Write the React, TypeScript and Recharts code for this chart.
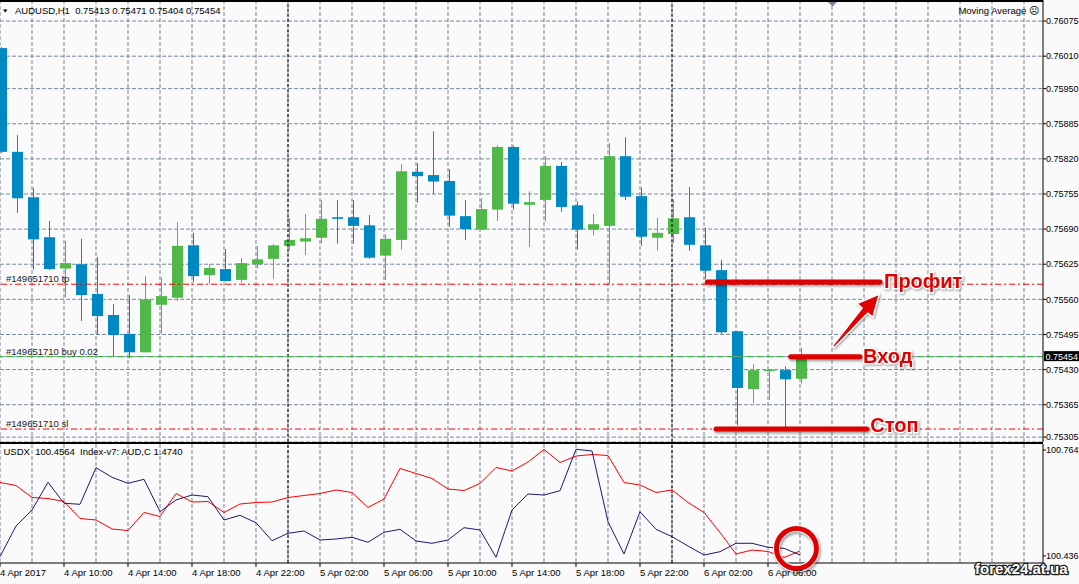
import React from 'react';
import { ComposedChart, Bar, Line, XAxis, YAxis, CartesianGrid, ReferenceLine, ReferenceDot } from 'recharts';

const W = 1079;
const H = 584;
const MAIN_H = 442;
const LOWER_TOP = 444;
const LOWER_H = 140;
const BG = '#fafafa';
const FONT = '"Liberation Sans", Arial, sans-serif';
const GRID = '#778899';
const UP = '#4fb848';
const DOWN = '#0088c2';

// AUDUSD H1, one bar per hour from 4 Apr 06:00
const opens = [0.76025, 0.75833, 0.75749, 0.75675, 0.75617, 0.75625, 0.7557, 0.75531, 0.75496, 0.75462, 0.7555, 0.75563, 0.7566, 0.75605, 0.75616, 0.75596, 0.75625, 0.75635, 0.75659, 0.75667, 0.75674, 0.75712, 0.75712, 0.75697, 0.75641, 0.7567, 0.75796, 0.7579, 0.75779, 0.75714, 0.75689, 0.75726, 0.75842, 0.75735, 0.75744, 0.75807, 0.75734, 0.75689, 0.75696, 0.75825, 0.75751, 0.75674, 0.75681, 0.75712, 0.7566, 0.75614, 0.75501, 0.75394, 0.75428, 0.75429, 0.75413];
const highs = [0.76027, 0.75864, 0.75766, 0.75705, 0.75668, 0.75672, 0.75638, 0.75551, 0.75568, 0.75603, 0.756, 0.75703, 0.75683, 0.75625, 0.75653, 0.75636, 0.75659, 0.75662, 0.7571, 0.75718, 0.75744, 0.75744, 0.75744, 0.75716, 0.7568, 0.7581, 0.75812, 0.75871, 0.75801, 0.75744, 0.75747, 0.75845, 0.75845, 0.7576, 0.75825, 0.75814, 0.75741, 0.75718, 0.75849, 0.7586, 0.75767, 0.75711, 0.75745, 0.75768, 0.75693, 0.75633, 0.75501, 0.7544, 0.7543, 0.75436, 0.75471];
const lows = [0.75831, 0.7572, 0.75615, 0.75614, 0.75564, 0.7552, 0.75494, 0.75453, 0.75451, 0.75462, 0.75497, 0.75557, 0.75592, 0.75588, 0.75593, 0.75591, 0.75617, 0.75598, 0.75651, 0.75642, 0.75664, 0.75663, 0.75663, 0.75635, 0.75596, 0.75652, 0.75739, 0.75755, 0.75694, 0.7567, 0.75689, 0.75705, 0.75726, 0.75657, 0.75704, 0.75722, 0.75652, 0.75678, 0.75588, 0.75744, 0.75659, 0.7565, 0.75664, 0.7565, 0.75597, 0.75496, 0.75327, 0.75368, 0.75374, 0.75324, 0.75404];
const closes = [0.75833, 0.75747, 0.75671, 0.75616, 0.75627, 0.75568, 0.75529, 0.75494, 0.75462, 0.7556, 0.75566, 0.75659, 0.75603, 0.75618, 0.75594, 0.75627, 0.75634, 0.7566, 0.7567, 0.75673, 0.75709, 0.75709, 0.75696, 0.75637, 0.75672, 0.75797, 0.75788, 0.75778, 0.75715, 0.7569, 0.75727, 0.75842, 0.75737, 0.7574, 0.75807, 0.75731, 0.75689, 0.75699, 0.75825, 0.7575, 0.75676, 0.75683, 0.7571, 0.75661, 0.75613, 0.75499, 0.75396, 0.75429, 0.7543, 0.75412, 0.75454];

// indicator window
const usdx = [100.4338, 100.5288, 100.5783, 100.6641, 100.5991, 100.596, 100.7092, 100.6795, 100.661, 100.6733, 100.5731, 100.6093, 100.6248, 100.6195, 100.5474, 100.5619, 100.539, 100.4833, 100.5062, 100.5134, 100.4855, 100.4886, 100.4939, 100.4784, 100.5093, 100.5186, 100.4824, 100.4753, 100.4855, 100.5236, 100.5165, 100.432, 100.5783, 100.6279, 100.6248, 100.6381, 100.7662, 100.7609, 100.5421, 100.4422, 100.5731, 100.5186, 100.4957, 100.4669, 100.4391, 100.4493, 100.4753, 100.4753, 100.4629, 100.4598, 100.4391];
const audIndex = [1.4877, 1.4871, 1.4847, 1.4845, 1.4839, 1.4805, 1.4802, 1.4784, 1.4781, 1.4817, 1.4809, 1.4855, 1.4838, 1.4839, 1.4817, 1.4834, 1.4837, 1.4838, 1.4847, 1.4851, 1.4855, 1.4862, 1.4857, 1.4827, 1.4844, 1.4905, 1.4895, 1.4885, 1.4864, 1.4861, 1.4875, 1.4907, 1.49, 1.4918, 1.4943, 1.4917, 1.493, 1.4933, 1.4931, 1.4877, 1.4872, 1.4857, 1.4862, 1.4837, 1.4817, 1.4777, 1.4734, 1.4742, 1.4739, 1.4727, 1.474];

const timeTicks = [0, 4, 8, 12, 16, 20, 24, 28, 32, 36, 40, 44, 48];
const timeLabels = ['4 Apr 2017', '4 Apr 10:00', '4 Apr 14:00', '4 Apr 18:00', '4 Apr 22:00', '5 Apr 02:00', '5 Apr 06:00', '5 Apr 10:00', '5 Apr 14:00', '5 Apr 18:00', '5 Apr 22:00', '6 Apr 02:00', '6 Apr 06:00'];
const gridHours = Array.from({ length: 33 }, (_, i) => i * 2);
const daySeparators = [18, 42];

const priceTicks = [0.76075, 0.7601, 0.7595, 0.75885, 0.7582, 0.75755, 0.7569, 0.75625, 0.7556, 0.75495, 0.7543, 0.75365, 0.75305];
const usdxTicks = [100.764, 100.436];

const TP = 0.75588;
const ENTRY = 0.75454;
const SL = 0.7532;
const BID = 0.75454;

// hand-drawn annotations, in chart coordinates (hour index, price)
const profitMark = { from: 44.21, to: 55.0, price: 0.75592 };
const entryMark = { from: 49.42, to: 53.75, price: 0.75454 };
const stopMark = { from: 44.75, to: 54.17, price: 0.7532 };
const arrowMark = { x1: 52.08, y1: 0.75472, x2: 54.96, y2: 0.7557 };
const ringMark = { x: 49.78, y: 100.4591 };

const X_DOMAIN: [number, number] = [0, 65.1875];
const PRICE_DOMAIN: [number, number] = [0.75296, 0.76114];
const USDX_DOMAIN: [number, number] = [100.4143, 100.7826];
const AUD_DOMAIN: [number, number] = [1.4716, 1.4954];

const candles = opens.map((o, i) => ({
  t: i,
  open: o,
  high: highs[i],
  low: lows[i],
  close: closes[i],
  range: [lows[i], highs[i]],
}));

const indicator = usdx.map((v, i) => ({ t: i, usdx: v, aud: audIndex[i] }));

const verticalGrid = ({ xAxis, offset }: any) =>
  gridHours.map((h) =>
    xAxis && typeof xAxis.scale === 'function'
      ? xAxis.scale(h)
      : offset.left + ((h - X_DOMAIN[0]) / (X_DOMAIN[1] - X_DOMAIN[0])) * offset.width,
  );

const Candle = (props: any) => {
  const { x, y, width, height, payload } = props;
  if (x == null || !payload) return null;
  const { open, close, high, low } = payload;
  const top = Math.min(y, y + height);
  const h = Math.abs(height);
  const k = h / (high - low || 1e-9);
  const yOf = (v: number) => top + (high - v) * k;
  const color = close >= open ? UP : DOWN;
  const cx = Math.round(x + width / 2) + 0.5;
  const bodyTop = yOf(Math.max(open, close));
  const bodyH = Math.max(1.5, yOf(Math.min(open, close)) - bodyTop);
  return (
    <g>
      <line x1={cx} x2={cx} y1={top} y2={top + h} stroke={color} strokeWidth={1} />
      <rect x={cx - 5.5} y={bodyTop} width={11} height={bodyH} fill={color} />
    </g>
  );
};

const orderTag = (text: string) => (props: any) => {
  const vb = props.viewBox;
  return (
    <text x={vb.x + 6} y={vb.y - 2} fontSize={9.5} fontFamily={FONT} fill="#1a1a1a">
      {text}
    </text>
  );
};

const bidTag = (props: any) => {
  const vb = props.viewBox;
  const x = vb.x + vb.width;
  return (
    <g>
      <rect x={x + 1} y={vb.y - 5.5} width={36} height={10} fill="#000" />
      <text x={x + 2.5} y={vb.y + 3.5} fontSize={9} fontFamily={FONT} fill="#fff">
        {BID.toFixed(5)}
      </text>
    </g>
  );
};

const shadow = { filter: 'drop-shadow(1px 2px 1px rgba(0,0,0,0.35))' };

const markShape = (p: any) => (
  <line x1={p.x1} y1={p.y1} x2={p.x2} y2={p.y2} stroke="#e00000" strokeWidth={5} strokeLinecap="round" style={shadow} />
);

const markText = (text: string, dx: number, dy: number) => (props: any) => {
  const vb = props.viewBox;
  return (
    <text
      x={vb.x + vb.width + dx}
      y={vb.y + dy}
      fontSize={20}
      fontWeight={700}
      fontFamily={FONT}
      fill="#e30000"
      stroke="#ffffff"
      strokeWidth={3}
      paintOrder="stroke"
      style={{ filter: 'drop-shadow(1px 1px 1px rgba(0,0,0,0.35))' }}
    >
      {text}
    </text>
  );
};

const arrowShape = (p: any) => {
  const { x1, y1, x2, y2 } = p;
  const len = Math.hypot(x2 - x1, y2 - y1) || 1;
  const ux = (x2 - x1) / len;
  const uy = (y2 - y1) / len;
  const nx = -uy;
  const ny = ux;
  const head = 22;
  const bx = x2 - ux * head;
  const by = y2 - uy * head;
  const pts = [
    [x1 + nx * 1.2, y1 + ny * 1.2],
    [bx + nx * 3.8, by + ny * 3.8],
    [bx + nx * 10.5, by + ny * 10.5],
    [x2, y2],
    [bx - nx * 10.5, by - ny * 10.5],
    [bx - nx * 3.8, by - ny * 3.8],
    [x1 - nx * 1.2, y1 - ny * 1.2],
  ]
    .map((q) => q.join(','))
    .join(' ');
  return (
    <polygon
      points={pts}
      fill="#e20000"
      stroke="#ffffff"
      strokeWidth={1.5}
      strokeLinejoin="round"
      style={{ filter: 'drop-shadow(1px 1px 1px rgba(0,0,0,0.35))' }}
    />
  );
};

const ringShape = (p: any) => (
  <g style={shadow}>
    <circle cx={p.cx} cy={p.cy} r={20} fill="none" stroke="#ffffff" strokeWidth={7} />
    <circle cx={p.cx} cy={p.cy} r={20} fill="none" stroke="#e00000" strokeWidth={5} />
  </g>
);

const timeFormat = (v: any, i: number) => timeLabels[timeTicks.indexOf(Number(v))] ?? timeLabels[i] ?? '';

const axisTick = { fontSize: 9, fill: '#000', fontFamily: FONT };

export default function App() {
  return (
    <div style={{ position: 'absolute', left: 0, top: 0, width: W, height: H, background: BG, overflow: 'hidden' }}>
      <div style={{ position: 'absolute', left: 0, top: 0 }}>
        <ComposedChart width={W} height={MAIN_H} data={candles} margin={{ top: 0, right: 0, bottom: 0, left: 0 }}>
          <CartesianGrid stroke={GRID} strokeDasharray="4 2" verticalCoordinatesGenerator={verticalGrid} />
          <XAxis dataKey="t" type="number" domain={X_DOMAIN} allowDataOverflow ticks={gridHours} hide />
          <YAxis
            orientation="right"
            width={36}
            domain={PRICE_DOMAIN}
            allowDataOverflow
            ticks={priceTicks}
            interval={0}
            tickFormatter={(v: number) => v.toFixed(5)}
            tick={axisTick}
            tickSize={3}
            tickMargin={0}
            axisLine={{ stroke: '#000' }}
            tickLine={{ stroke: '#000' }}
          />
          {daySeparators.map((d) => (
            <ReferenceLine key={d} x={d} stroke="#000" strokeDasharray="3 2" />
          ))}
          <ReferenceLine y={BID} stroke="#8796a8" label={bidTag} />
          <ReferenceLine y={TP} stroke="#ff0000" strokeDasharray="6 3 2 3" label={orderTag('#149651710 tp')} />
          <ReferenceLine y={ENTRY} stroke="#2db82d" strokeDasharray="6 4" label={orderTag('#149651710 buy 0.02')} />
          <ReferenceLine y={SL} stroke="#ff0000" strokeDasharray="6 3 2 3" label={orderTag('#149651710 sl')} />
          <Bar dataKey="range" barSize={11} shape={(p: any) => <Candle {...p} />} isAnimationActive={false} />
          <ReferenceLine
            segment={[{ x: profitMark.from, y: profitMark.price }, { x: profitMark.to, y: profitMark.price }]}
            shape={markShape}
            label={markText('Профит', 4, 5.5)}
          />
          <ReferenceLine
            segment={[{ x: entryMark.from, y: entryMark.price }, { x: entryMark.to, y: entryMark.price }]}
            shape={markShape}
            label={markText('Вход', 3, 6)}
          />
          <ReferenceLine
            segment={[{ x: stopMark.from, y: stopMark.price }, { x: stopMark.to, y: stopMark.price }]}
            shape={markShape}
            label={markText('Стоп', 3.5, 3)}
          />
          <ReferenceLine
            segment={[{ x: arrowMark.x1, y: arrowMark.y1 }, { x: arrowMark.x2, y: arrowMark.y2 }]}
            shape={arrowShape}
          />
        </ComposedChart>
      </div>

      <div style={{ position: 'absolute', left: 0, top: LOWER_TOP }}>
        <ComposedChart width={W} height={LOWER_H} data={indicator} margin={{ top: 0, right: 0, bottom: 0, left: 0 }}>
          <CartesianGrid
            xAxisId="time"
            yAxisId="usdx"
            horizontal={false}
            stroke={GRID}
            strokeDasharray="4 2"
            verticalCoordinatesGenerator={verticalGrid}
          />
          <XAxis
            xAxisId="time"
            dataKey="t"
            type="number"
            domain={X_DOMAIN}
            allowDataOverflow
            ticks={timeTicks}
            interval={0}
            height={21}
            tickFormatter={timeFormat}
            tick={{ fontSize: 9.5, fill: '#000', fontFamily: FONT, textAnchor: 'start' }}
            tickSize={4}
            tickMargin={2}
            axisLine={{ stroke: '#000' }}
            tickLine={{ stroke: '#000' }}
          />
          <YAxis
            yAxisId="usdx"
            orientation="right"
            width={36}
            domain={USDX_DOMAIN}
            allowDataOverflow
            ticks={usdxTicks}
            interval={0}
            tickFormatter={(v: number) => v.toFixed(3)}
            tick={axisTick}
            tickSize={3}
            tickMargin={0}
            axisLine={{ stroke: '#000' }}
            tickLine={{ stroke: '#000' }}
          />
          <YAxis yAxisId="aud" hide domain={AUD_DOMAIN} allowDataOverflow />
          {daySeparators.map((d) => (
            <ReferenceLine key={d} xAxisId="time" yAxisId="usdx" x={d} stroke="#000" strokeDasharray="3 2" />
          ))}
          <Line xAxisId="time" yAxisId="aud" dataKey="aud" type="linear" stroke="#ff0000" strokeWidth={1} dot={false} isAnimationActive={false} />
          <Line xAxisId="time" yAxisId="usdx" dataKey="usdx" type="linear" stroke="#1a1a72" strokeWidth={1} dot={false} isAnimationActive={false} />
          <ReferenceDot xAxisId="time" yAxisId="usdx" x={ringMark.x} y={ringMark.y} shape={ringShape} />
        </ComposedChart>
      </div>

      <svg width={W} height={H} style={{ position: 'absolute', left: 0, top: 0, pointerEvents: 'none' }}>
        <rect x={0} y={0} width={1043} height={2} fill="#000" />
        <rect x={0} y={442} width={1043} height={2} fill="#000" />
        <polygon points="3,9.5 7.5,9.5 5.25,12.5" fill="#000" />
        <polygon points="828,2 837,2 832.5,6.5" fill={GRID} />
        <text x={15} y={13.5} fontSize={9.5} fontFamily={FONT} fill="#000" style={{ whiteSpace: 'pre' }}>
          {'AUDUSD,H1  0.75413 0.75471 0.75404 0.75454'}
        </text>
        <text x={1039} y={13.5} fontSize={9.5} fontFamily={FONT} fill="#000" textAnchor="end">
          Moving Average ☹
        </text>
        <text x={3.5} y={455} fontSize={9.5} fontFamily={FONT} fill="#000" style={{ whiteSpace: 'pre' }}>
          {'USDX  100.4564  Index-v7: AUD,C 1.4740'}
        </text>
        <text
          x={975}
          y={573.5}
          fontSize={15}
          fontWeight={700}
          fontFamily={FONT}
          fill="#ffffff"
          stroke="#1e1e1e"
          strokeWidth={2.5}
          paintOrder="stroke"
        >
          forex24.at.ua
        </text>
      </svg>
    </div>
  );
}
